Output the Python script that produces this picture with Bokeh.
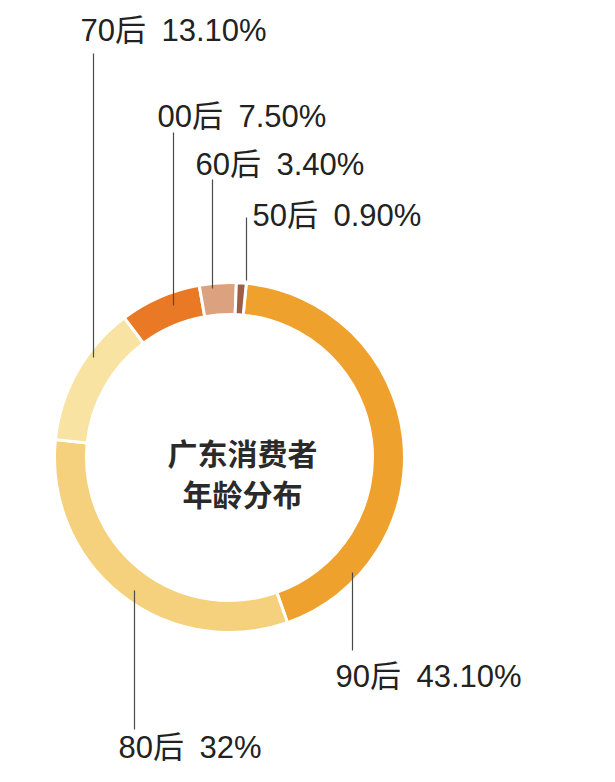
import numpy as np
from bokeh.plotting import figure
from bokeh.models import Range1d, ColumnDataSource
from bokeh.core.properties import value
from bokeh.embed import file_html
from bokeh.resources import INLINE

# ---- data ----
groups = ["90后", "80后", "70后", "00后", "60后", "50后"]
shares = [43.1, 32.0, 13.1, 7.5, 3.4, 0.9]
share_labels = ["43.10%", "32%", "13.10%", "7.50%", "3.40%", "0.90%"]
title_lines = ["广东消费者", "年龄分布"]

# ---- style / layout ----
colors = ["#EEA12D", "#F5D07D", "#F9E3A3", "#EA7926", "#DCA27F", "#9C5F46"]
W, H = 599, 766
IMG_H = 782
cx, cy_img = 229, 457
r_out, r_in = 175, 143
start_deg = 84.5  # where the first slice starts, drawn clockwise

# label anchors (image px): text left x, text centre y, leader x, leader top y, leader bottom y
label_layout = [
    (335, 676, 352, 572, 650),
    (118, 747, 134, 590, 729),
    (80, 30, 93, 53, 357),
    (157, 116, 173, 132, 305),
    (195, 164, 212, 179, 288),
    (252, 215, 246, 217, 280),
]

def Y(y_img):
    return IMG_H - y_img

p = figure(width=W, height=H, output_backend="svg", toolbar_location=None,
           x_range=Range1d(0, W), y_range=Range1d(Y(H), Y(0)),
           min_border=0, match_aspect=False)
p.axis.visible = False
p.grid.visible = False
p.outline_line_color = None
p.background_fill_color = "white"

frac = np.array(shares) / sum(shares)
cum = np.concatenate([[0], np.cumsum(frac)])
a_hi = start_deg - cum[:-1] * 360
a_lo = start_deg - cum[1:] * 360

src = ColumnDataSource(dict(g=groups, lo=a_lo, hi=a_hi, c=colors))
p.annular_wedge(x=cx, y=Y(cy_img), inner_radius=r_in, outer_radius=r_out,
                start_angle="lo", end_angle="hi", start_angle_units="deg",
                end_angle_units="deg", direction="anticlock",
                fill_color="c", line_color="white", line_width=3, source=src)

lx, ly, xs, ys = [], [], [], []
texts = []
for g, s, (tx, ty, lnx, ly0, ly1) in zip(groups, share_labels, label_layout):
    texts.append(f"{g}\u2002{s}")
    lx.append(tx)
    ly.append(Y(ty))
    xs.append([lnx, lnx])
    ys.append([Y(ly0), Y(ly1)])

p.multi_line(xs=xs, ys=ys, line_color="#4a4a4a", line_width=1.2)
p.text(x=lx, y=ly, text=texts, text_align="left", text_baseline="middle",
       text_font=value("Liberation Sans, Noto Sans CJK SC"), text_font_size="31px",
       text_color="#222222")

p.text(x=[242, 242], y=[Y(451), Y(492)], text=title_lines, text_align="center",
       text_baseline="middle", text_font=value("Noto Sans CJK SC"),
       text_font_size="30px", text_font_style="bold", text_color="#2a2a2a")

open("out.html", "w").write(file_html(p, INLINE))
